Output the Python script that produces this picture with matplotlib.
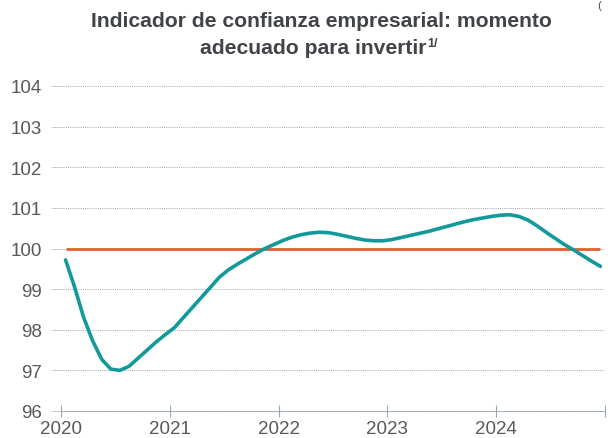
import matplotlib
matplotlib.use("Agg")
import matplotlib.pyplot as plt
import numpy as np

plt.rcParams['font.family'] = ['Liberation Sans', 'DejaVu Sans']

# Monthly data Jan 2020 - Dec 2024
indicador = [
    99.72, 99.05, 98.30, 97.72, 97.27, 97.03, 97.00, 97.10, 97.30, 97.50, 97.70, 97.88,
    98.05, 98.30, 98.55, 98.80, 99.05, 99.30, 99.48, 99.62, 99.75, 99.88, 100.00, 100.10,
    100.20, 100.28, 100.34, 100.38, 100.40, 100.39, 100.35, 100.30, 100.25, 100.21, 100.19, 100.19,
    100.22, 100.27, 100.32, 100.37, 100.42, 100.48, 100.54, 100.60, 100.66, 100.71, 100.75, 100.79,
    100.82, 100.83, 100.79, 100.70, 100.56, 100.40, 100.25, 100.10, 99.97, 99.83, 99.69, 99.56,
]
umbral = [100.0] * len(indicador)
year_labels = ['2020', '2021', '2022', '2023', '2024', '']
y_ticks = [96, 97, 98, 99, 100, 101, 102, 103, 104]

teal = '#14999A'
orange = '#E0612C'
grid_c = '#9AA6B2'
text_c = '#595959'

fig = plt.figure(figsize=(6.08, 4.39), dpi=100)
ax = fig.add_axes([61/608, 1-412/439, (605-61)/608, (412-87)/439])

x = np.arange(len(indicador)) + 0.5
ax.plot(x, umbral, color=orange, lw=2.0, zorder=3, solid_capstyle='butt')
ax.plot(x, indicador, color=teal, lw=2.6, zorder=4, solid_capstyle='round')

ax.set_xlim(0, 60)
ax.set_ylim(96, 104)
ax.set_yticks(y_ticks)
ax.set_yticklabels([str(v) for v in y_ticks])
ax.set_xticks(np.arange(0, 61, 12))
ax.set_xticklabels(year_labels)

ax.grid(axis='y', color=grid_c, linestyle=(0, (1, 1.2)), linewidth=0.7)
for s in ['top', 'right', 'left']:
    ax.spines[s].set_visible(False)
ax.spines['bottom'].set_color(grid_c)
ax.spines['bottom'].set_linestyle((0, (1, 1.2)))
ax.spines['bottom'].set_linewidth(0.7)

ax.tick_params(axis='y', length=7, color='#C8CDD2', width=0.7, labelsize=13.5,
               labelcolor=text_c, pad=7)
ax.tick_params(axis='x', direction='inout', length=9, color=grid_c, width=0.8,
               labelsize=13.5, labelcolor=text_c, pad=2)
for t in ax.xaxis.get_ticklines():
    t.set_linestyle((0, (1, 1)))

title_c = '#404449'
fig.text(0.528, 1-27/439, 'Indicador de confianza empresarial: momento',
         ha='center', va='baseline', fontsize=15.2, fontweight='bold', color=title_c)
t2 = fig.text(313/608, 1-54.5/439, 'adecuado para invertir',
              ha='center', va='baseline', fontsize=15.2, fontweight='bold', color=title_c)
ax.annotate('1/', xy=(1.0, 0.62), xycoords=t2, xytext=(1, 0),
            textcoords='offset points', ha='left', va='baseline', fontsize=9,
            fontweight='bold', color=title_c, annotation_clip=False)
fig.text(0.983, 0.997, '(', ha='left', va='top', fontsize=8, color=title_c)

fig.savefig('out.png', dpi=100)
